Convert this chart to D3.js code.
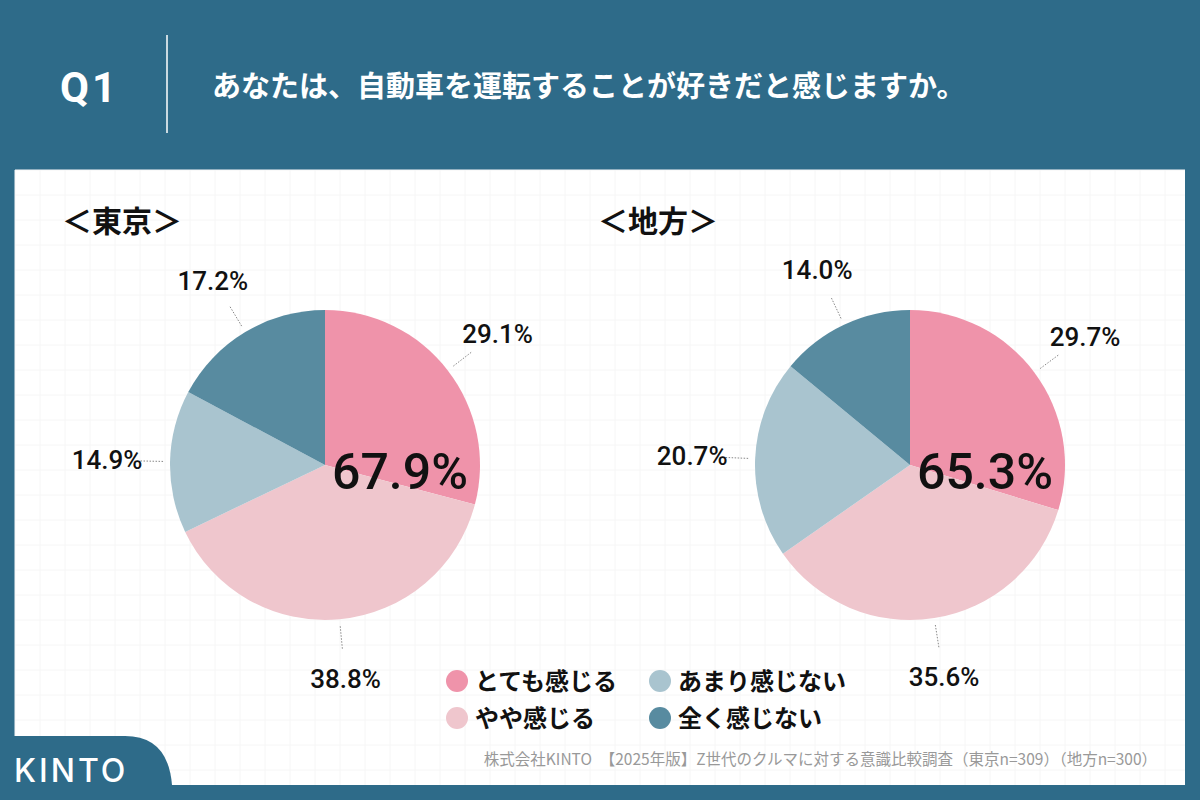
<!doctype html>
<html lang="ja">
<head>
<meta charset="utf-8">
<title>Q1</title>
<style>
html, body { margin: 0; padding: 0; overflow: hidden; background: #2e6b89; }
svg { display: block; font-family: 'Noto Sans CJK JP', 'Noto Sans', sans-serif; }
</style>
</head>
<body>
<svg id="chart" width="1200" height="800"></svg>
<script src="https://cdn.jsdelivr.net/npm/d3@7/dist/d3.min.js"></script>
<script>
/* DATA */
var categories = ['とても感じる', 'やや感じる', 'あまり感じない', '全く感じない'];
var tokyoValues = [29.1, 38.8, 14.9, 17.2];
var localValues = [29.7, 35.6, 20.7, 14.0];
var regionTitles = ['＜東京＞', '＜地方＞'];
var positiveTotals = ['67.9%', '65.3%'];
var colors = ['#ef93aa', '#efc6cd', '#a9c4cf', '#588ba0'];

var svg = d3.select('#chart');

/* BACKGROUND */
svg.append('rect').attr('x', 0).attr('y', 0).attr('width', 1200).attr('height', 800).attr('fill', '#2e6b89');
svg.append('rect').attr('x', 15).attr('y', 170).attr('width', 1170).attr('height', 615).attr('fill', '#fff');

var grid = svg.append('g').attr('stroke', '#f6f6f6').attr('stroke-width', 1);
d3.range(15, 1185, 25).forEach(function (x) {
	grid.append('line').attr('x1', x).attr('x2', x).attr('y1', 170).attr('y2', 785);
});
d3.range(170, 785, 25).forEach(function (y) {
	grid.append('line').attr('x1', 15).attr('x2', 1185).attr('y1', y).attr('y2', y);
});

/* HEADER */
svg.append('text').attr('x', 60).attr('y', 102).attr('fill', '#fff').attr('letter-spacing', 3)
	.attr('font-size', 42).attr('font-weight', 700).attr('font-family', 'Roboto, sans-serif').text('Q1');
svg.append('line').attr('x1', 167).attr('x2', 167).attr('y1', 35).attr('y2', 133)
	.attr('stroke', '#fff').attr('stroke-width', 1.5);
svg.append('text').attr('x', 212).attr('y', 97).attr('fill', '#fff')
	.attr('font-size', 29).attr('font-weight', 700).text('あなたは、自動車を運転することが好きだと感じますか。');

/* PIES */
var pie = d3.pie().sort(null).value(function (d) { return d; });
var arc = d3.arc().innerRadius(0).outerRadius(155);

function drawPie(values, cx, title, total, titleX) {
	svg.append('text').attr('x', titleX).attr('y', 232).attr('font-size', 30).attr('font-weight', 700)
		.attr('fill', '#111').text(title);
	var g = svg.append('g').attr('transform', 'translate(' + cx + ',465)');
	var arcs = pie(values);
	g.selectAll('path').data(arcs).enter().append('path')
		.attr('d', arc).attr('fill', function (d, i) { return colors[i]; });
	arcs.forEach(function (d) {
		var a = (d.startAngle + d.endAngle) / 2;
		var sx = Math.sin(a), sy = -Math.cos(a);
		g.append('line')
			.attr('x1', sx * 162).attr('y1', sy * 162)
			.attr('x2', sx * 185).attr('y2', sy * 185)
			.attr('stroke', '#888').attr('stroke-width', 1).attr('stroke-dasharray', '1.5,1.5');
		g.append('text')
			.attr('x', sx * 218).attr('y', sy * 215 + 9)
			.attr('text-anchor', 'middle').attr('font-size', 26).attr('font-weight', 500)
			.attr('font-family', 'Roboto, sans-serif')
			.attr('fill', '#111').text(d.data.toFixed(1) + '%');
	});
	g.append('text').attr('x', 75).attr('y', 24).attr('text-anchor', 'middle')
		.attr('font-size', 50).attr('font-weight', 500).attr('font-family', 'Roboto, sans-serif')
		.attr('fill', '#111').text(total);
}
drawPie(tokyoValues, 325, regionTitles[0], positiveTotals[0], 62);
drawPie(localValues, 910, regionTitles[1], positiveTotals[1], 598);

/* LEGEND */
var legendPos = [[457, 681], [457, 718], [660, 681], [660, 718]];
categories.forEach(function (c, i) {
	var p = legendPos[i];
	svg.append('circle').attr('cx', p[0]).attr('cy', p[1]).attr('r', 11).attr('fill', colors[i]);
	svg.append('text').attr('x', p[0] + 18).attr('y', p[1] + 9).attr('font-size', 24).attr('font-weight', 700)
		.attr('fill', '#111').text(c);
});

/* FOOTER */
svg.append('text').attr('x', 1157).attr('y', 765).attr('text-anchor', 'end').attr('font-size', 15.5)
	.attr('fill', '#999').text('株式会社KINTO　【2025年版】Z世代のクルマに対する意識比較調査（東京n=309）（地方n=300）');
svg.append('path').attr('fill', '#2e6b89')
	.attr('d', 'M0,785 L0,736 L125,736 Q168,736 172,785 Z');
svg.append('text').attr('x', 14).attr('y', 782).attr('fill', '#fff').attr('font-size', 32)
	.attr('font-weight', 500).attr('letter-spacing', 3).attr('font-family', 'Inter, sans-serif').text('KINTO');
</script>
</body>
</html>
